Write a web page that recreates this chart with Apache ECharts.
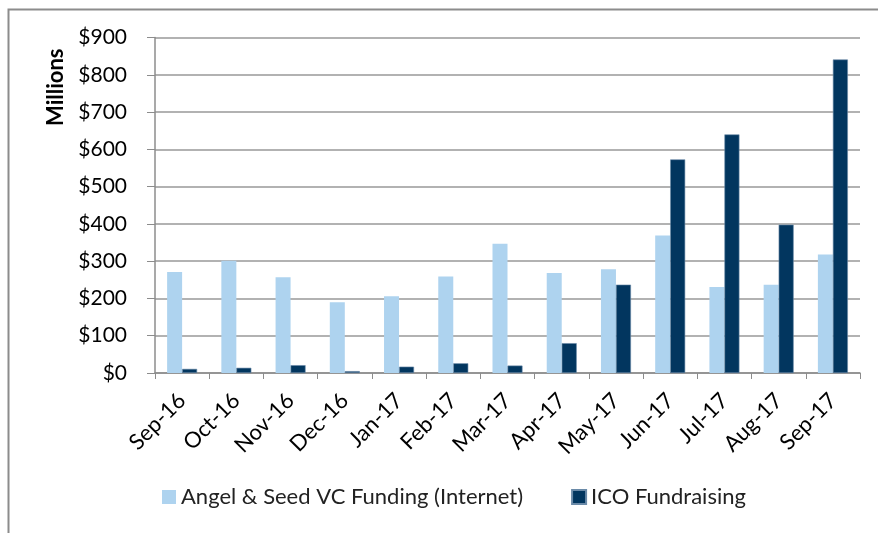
<!DOCTYPE html>
<html>
<head>
<meta charset="utf-8">
<script src="https://cdn.jsdelivr.net/npm/echarts@6/dist/echarts.min.js"></script>
<style>
  html, body { margin: 0; padding: 0; background: #fff; }
  #chart { width: 878px; height: 533px; }
</style>
</head>
<body>
<div id="chart"></div>
<script>
const months = ['Sep-16', 'Oct-16', 'Nov-16', 'Dec-16', 'Jan-17', 'Feb-17', 'Mar-17',
  'Apr-17', 'May-17', 'Jun-17', 'Jul-17', 'Aug-17', 'Sep-17']
const angelSeed = [271, 301, 257, 190, 206, 259, 347, 268, 278, 369, 231, 237, 318]
const icoFunding = [11, 14, 21, 5, 17, 26, 20, 80, 237, 573, 640, 398, 841]
const yTicks = [0, 100, 200, 300, 400, 500, 600, 700, 800, 900]

const FONT = 'Lato'
const chart = echarts.init(document.getElementById('chart'))

const option = {
  animation: false,
  textStyle: { fontFamily: FONT },
  color: ['#AED3EF', '#02365F'],
  graphic: [
    {
      type: 'rect',
      shape: { x: 8.5, y: 9.5, width: 880, height: 540 },
      style: { fill: 'none', stroke: '#8c8c8c', lineWidth: 2 },
      silent: true
    },
    {
      type: 'text',
      x: 45,
      y: 126,
      rotation: Math.PI / 2,
      style: {
        text: 'Millions',
        font: 'bold 22px ' + FONT,
        fill: '#000',
        textVerticalAlign: 'top'
      }
    }
  ],
  legend: {
    bottom: 20,
    left: 157,
    itemWidth: 14,
    itemHeight: 14,
    itemGap: 48,
    icon: 'rect',
    textStyle: { fontSize: 22, color: '#222', fontFamily: FONT },
    data: ['Angel & Seed VC Funding (Internet)', 'ICO Fundraising']
  },
  grid: { left: 155, right: 18, top: 37.5, bottom: 160 },
  xAxis: {
    type: 'category',
    data: months,
    axisLine: { lineStyle: { color: '#8c8c8c', width: 1.5 } },
    axisTick: { show: true, length: 6, lineStyle: { color: '#8c8c8c' } },
    axisLabel: {
      interval: 0,
      rotate: 45,
      fontSize: 22,
      color: '#000',
      margin: 24,
      fontFamily: FONT
    }
  },
  yAxis: {
    type: 'value',
    min: 0,
    max: 900,
    interval: 100,
    axisLine: { show: true, lineStyle: { color: '#8c8c8c', width: 1.5 } },
    axisTick: { show: true, length: 8, inside: false, lineStyle: { color: '#8c8c8c' } },
    splitLine: { lineStyle: { color: '#999', width: 1.5 } },
    axisLabel: {
      fontSize: 21,
      color: '#000',
      margin: 28,
      fontFamily: FONT,
      formatter: v => yTicks.indexOf(v) >= 0 ? '$' + v : ''
    }
  },
  series: [
    {
      name: 'Angel & Seed VC Funding (Internet)',
      type: 'bar',
      barWidth: 15,
      barGap: '0%',
      data: angelSeed
    },
    {
      name: 'ICO Fundraising',
      type: 'bar',
      barWidth: 15,
      barGap: '0%',
      itemStyle: { borderColor: '#6a8aa8', borderWidth: 0.6 },
      data: icoFunding
    }
  ]
}

chart.setOption(option)
</script>
</body>
</html>
